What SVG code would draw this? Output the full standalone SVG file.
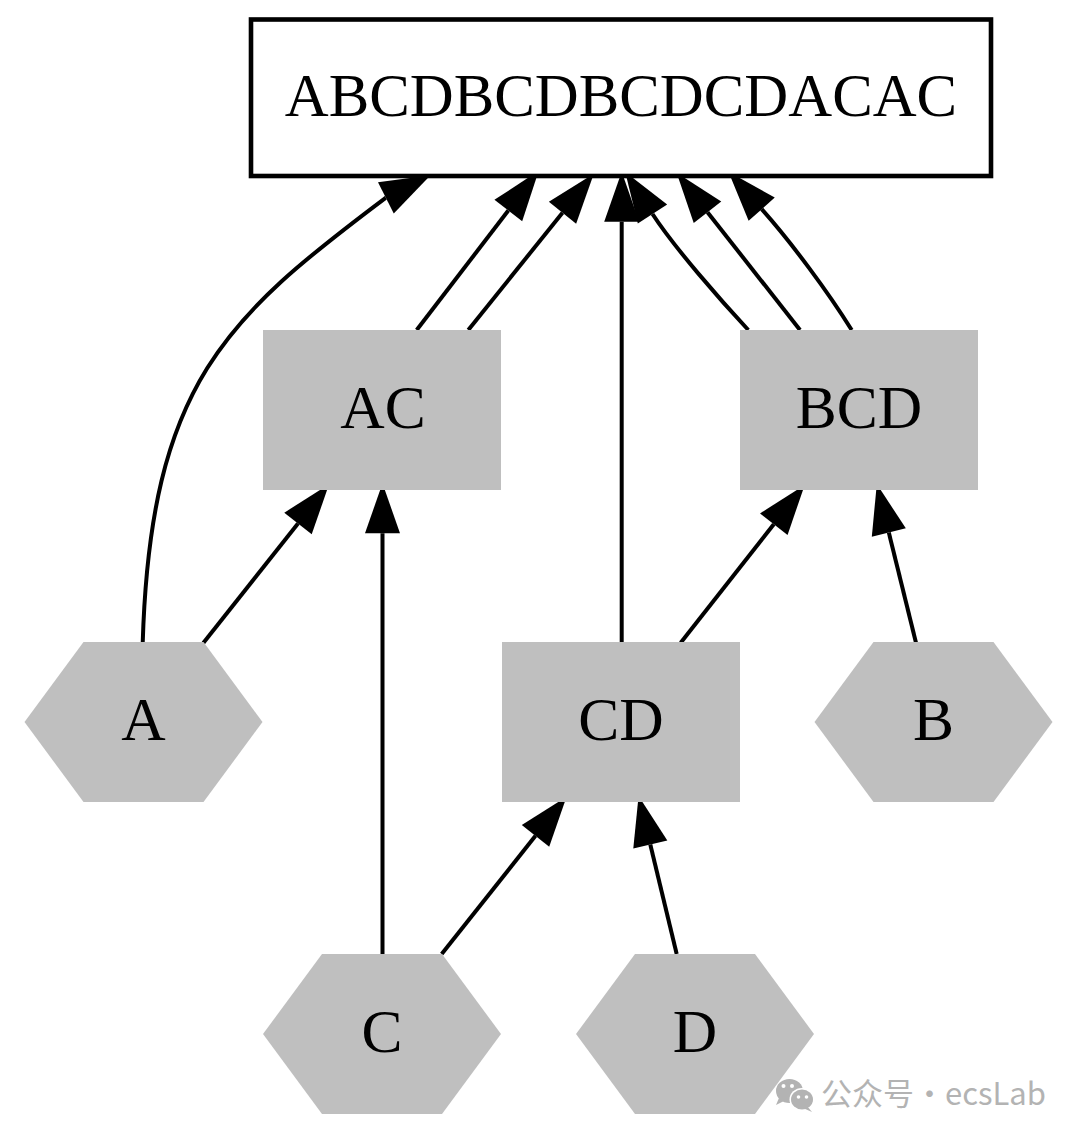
<svg xmlns="http://www.w3.org/2000/svg" width="1080" height="1138" viewBox="0 0 1080 1138">
<style>
.lbl{font-family:"Liberation Serif","Times New Roman",serif;font-size:61.5px;fill:#000;text-anchor:middle}
.nd{fill:#bfbfbf;stroke:none}
.e{fill:none;stroke:#000;stroke-width:4}
.wm{font-family:"Noto Sans CJK SC","Noto Sans",sans-serif;font-size:31px;fill:#b3b3b3}
</style>
<defs>
<marker id="ah" markerUnits="userSpaceOnUse" markerWidth="52" markerHeight="38" viewBox="0 -19 52 38" refX="0" refY="0" orient="auto" overflow="visible">
<path d="M0,-17.5 L50,0 L0,17.5 Z" fill="#000"/>
</marker>
</defs>
<rect width="1080" height="1138" fill="#fff"/>

<g id="edges">
<path class="e" marker-end="url(#ah)" d="M142.7,643 C150.5,384 226,317.7 385,198.3 l0.89,-0.45"/>
<path class="e" marker-end="url(#ah)" d="M203.3,643 L298,523.5"/>
<path class="e" marker-end="url(#ah)" d="M382.5,954 L382.5,533.3"/>
<path class="e" marker-end="url(#ah)" d="M441.7,954 L535.5,835.8"/>
<path class="e" marker-end="url(#ah)" d="M676.7,954 L650.3,844.5"/>
<path class="e" marker-end="url(#ah)" d="M621.7,642 L621.7,221.7"/>
<path class="e" marker-end="url(#ah)" d="M680.7,642.7 L773.8,524.2"/>
<path class="e" marker-end="url(#ah)" d="M916,642.7 L888.8,532.5"/>
<path class="e" marker-end="url(#ah)" d="M416.7,330 L508.3,210.5"/>
<path class="e" marker-end="url(#ah)" d="M468.3,330 L562.5,212.7"/>
<path class="e" marker-end="url(#ah)" d="M748.3,330 C721.1,300.8 674.3,247.5 652.5,214"/>
<path class="e" marker-end="url(#ah)" d="M800,330 L707.5,212.2"/>
<path class="e" marker-end="url(#ah)" d="M851.7,330 C827.9,291.8 791.6,242.8 761.7,209.2"/>
</g>

<g id="node-ABCDBCDBCDCDACAC">
<rect x="251" y="19.5" width="740" height="156.5" fill="#fff" stroke="#000" stroke-width="4.6"/>
<text class="lbl" x="621" y="116" style="font-size:60.8px">ABCDBCDBCDCDACAC</text>
</g>
<g id="node-AC">
<rect class="nd" x="263" y="330" width="238" height="160"/>
<text class="lbl" x="383" y="428">AC</text>
</g>
<g id="node-BCD">
<rect class="nd" x="740" y="330" width="238" height="160"/>
<text class="lbl" x="859" y="428">BCD</text>
</g>
<g id="node-CD">
<rect class="nd" x="502" y="642" width="238" height="160"/>
<text class="lbl" x="621" y="740">CD</text>
</g>
<g id="node-A">
<polygon class="nd" points="24.5,722 83.5,642 203.5,642 262.5,722 203.5,802 83.5,802"/>
<text class="lbl" x="143.5" y="740">A</text>
</g>
<g id="node-B">
<polygon class="nd" points="814.5,722 873.5,642 993.5,642 1052.5,722 993.5,802 873.5,802"/>
<text class="lbl" x="933.5" y="740">B</text>
</g>
<g id="node-C">
<polygon class="nd" points="263,1034 322,954 442,954 501,1034 442,1114 322,1114"/>
<text class="lbl" x="382" y="1052">C</text>
</g>
<g id="node-D">
<polygon class="nd" points="576,1034 635,954 755,954 814,1034 755,1114 635,1114"/>
<text class="lbl" x="695" y="1052">D</text>
</g>

<g id="watermark">
<path d="M779,1098 L776,1105 L784,1101 Z" fill="#b3b3b3"/>
<ellipse cx="789.5" cy="1091" rx="13.5" ry="12" fill="#b3b3b3"/>
<ellipse cx="802" cy="1099.5" rx="12.5" ry="11.5" fill="#fff"/>
<path d="M807,1106 L812,1112 L803,1108 Z" fill="#b3b3b3"/>
<ellipse cx="802" cy="1099.5" rx="11" ry="10" fill="#b3b3b3"/>
<circle cx="783.5" cy="1086" r="2" fill="#fff"/>
<circle cx="792" cy="1086" r="2" fill="#fff"/>
<circle cx="798.5" cy="1097" r="1.8" fill="#fff"/>
<circle cx="806.5" cy="1097" r="1.8" fill="#fff"/>
<text class="wm" x="821" y="1105">公众号·ecsLab</text>
</g>
</svg>
